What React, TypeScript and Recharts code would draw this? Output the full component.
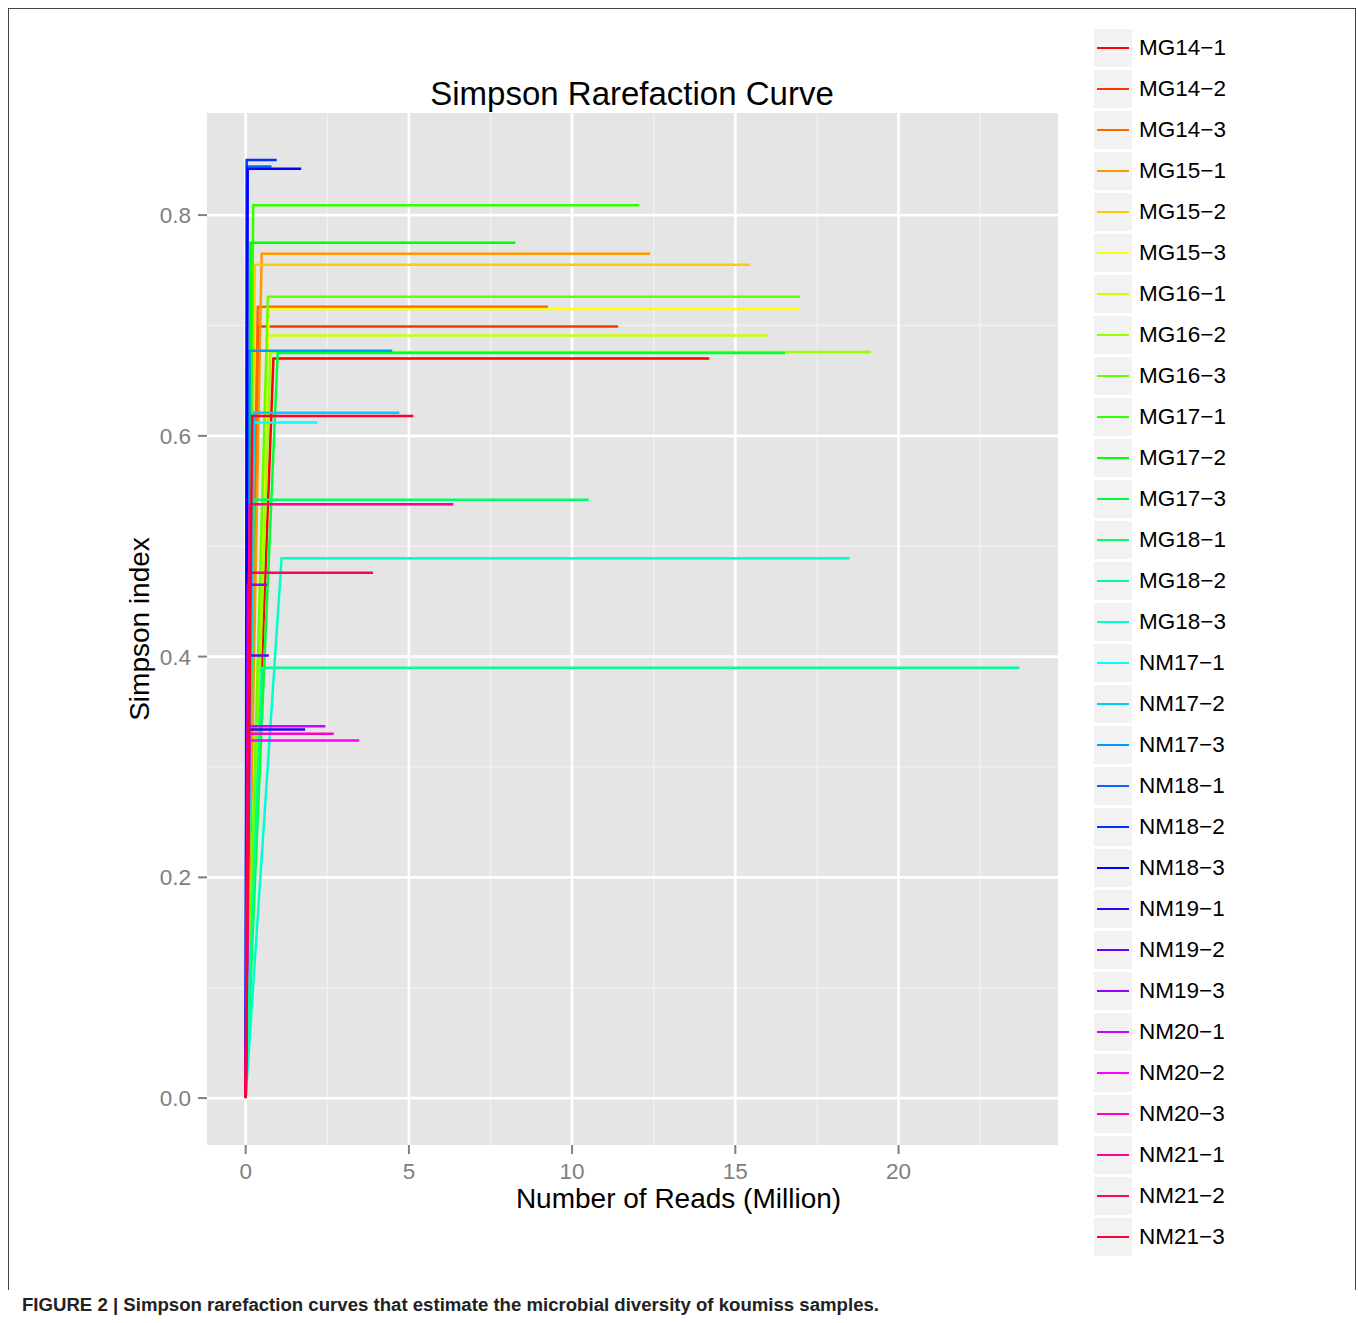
import { LineChart, Line, XAxis, YAxis, CartesianGrid, Legend } from "recharts";

const sampleNames = [
    "MG14−1", "MG14−2", "MG14−3", "MG15−1", "MG15−2", "MG15−3",
    "MG16−1", "MG16−2", "MG16−3", "MG17−1", "MG17−2", "MG17−3",
    "MG18−1", "MG18−2", "MG18−3", "NM17−1", "NM17−2", "NM17−3",
    "NM18−1", "NM18−2", "NM18−3", "NM19−1", "NM19−2", "NM19−3",
    "NM20−1", "NM20−2", "NM20−3", "NM21−1", "NM21−2", "NM21−3",
];

// rainbow(30)
const sampleColors = [
    "#FF0000", "#FF3300", "#FF6600", "#FF9900", "#FFCC00", "#FFFF00",
    "#CCFF00", "#99FF00", "#66FF00", "#33FF00", "#00FF00", "#00FF33",
    "#00FF66", "#00FF99", "#00FFCC", "#00FFFF", "#00CCFF", "#0099FF",
    "#0066FF", "#0033FF", "#0000FF", "#3300FF", "#6600FF", "#9900FF",
    "#CC00FF", "#FF00FF", "#FF00CC", "#FF0099", "#FF0066", "#FF0033",
];

// Simpson index reached at the plateau
const plateauSimpson = [
    0.670, 0.699, 0.717, 0.765, 0.755, 0.715,
    0.691, 0.676, 0.726, 0.809, 0.775, 0.675,
    0.542, 0.390, 0.489, 0.612, 0.621, 0.677,
    0.844, 0.850, 0.842, 0.334, 0.401, 0.465,
    0.337, 0.324, 0.330, 0.538, 0.476, 0.618,
];

// reads (million) where the curve reaches the plateau
const saturationReads = [
    0.85, 0.40, 0.37, 0.49, 0.28, 0.71,
    0.66, 0.76, 0.68, 0.23, 0.15, 0.98,
    0.25, 0.49, 1.10, 0.25, 0.25, 0.12,
    0.05, 0.03, 0.06, 0.10, 0.12, 0.06,
    0.10, 0.12, 0.10, 0.12, 0.10, 0.20,
];

// total reads (million) per sample
const totalReads = [
    14.20, 11.41, 9.26, 12.39, 15.45, 16.99,
    16.00, 19.15, 16.98, 12.06, 8.26, 16.52,
    10.51, 23.70, 18.50, 2.19, 4.71, 4.49,
    0.79, 0.95, 1.70, 1.82, 0.71, 0.66,
    2.44, 3.48, 2.70, 6.36, 3.90, 5.14,
];

const xTicks = [0, 5, 10, 15, 20];
const xMinor = [2.5, 7.5, 12.5, 17.5, 22.5];
const yTicks = [0, 0.2, 0.4, 0.6, 0.8];
const yMinor = [0.1, 0.3, 0.5, 0.7];

const xMax = 23.7;
const yMax = 0.85;
const xDomain = [-0.05 * xMax, xMax * 1.05];
const yDomain = [-0.05 * yMax, yMax * 1.05];

const series = sampleNames.map((name, i) => ({
    name,
    color: sampleColors[i],
    points: [
        { x: 0, y: 0 },
        { x: saturationReads[i], y: plateauSimpson[i] },
        { x: totalReads[i], y: plateauSimpson[i] },
    ],
}));

const FONT = '"Liberation Sans", Arial, Helvetica, sans-serif';

interface LegendItem {
    value: string;
    color: string;
}

function KeyLegend({ payload }: { payload?: LegendItem[] }) {
    if (!payload) return null;
    return (
        <div>
            {payload.map((item) => (
                <div
                    key={item.value}
                    style={{ display: "flex", alignItems: "center", height: 38, marginBottom: 3 }}
                >
                    <div style={{ width: 38, height: 38, background: "#F2F2F2", position: "relative" }}>
                        <div
                            style={{
                                position: "absolute",
                                left: 3,
                                right: 3,
                                top: 18,
                                height: 2.2,
                                background: item.color,
                            }}
                        />
                    </div>
                    <span style={{ marginLeft: 7, fontSize: 22.5, lineHeight: "38px", color: "#000" }}>
                        {item.value}
                    </span>
                </div>
            ))}
        </div>
    );
}

export default function App() {
    return (
        <div style={{ position: "relative", width: 1358, height: 1323, fontFamily: FONT, overflow: "hidden" }}>
            <style>{"body { margin: 0; }"}</style>
            <div style={{ position: "absolute", left: 8, top: 8, width: 1342, height: 1307 }}>
                <div
                    style={{
                        position: "absolute",
                        left: 0,
                        top: 0,
                        width: 1348,
                        height: 1282,
                        boxSizing: "border-box",
                        borderTop: "1.5px solid #444",
                        borderLeft: "1.5px solid #444",
                        borderRight: "1.5px solid #444",
                    }}
                />
                <div
                    style={{
                        position: "absolute",
                        left: 0,
                        top: 69,
                        width: 1248,
                        textAlign: "center",
                        fontSize: 33,
                        lineHeight: 1,
                        color: "#000",
                    }}
                >
                    Simpson Rarefaction Curve
                </div>
                <div style={{ position: "absolute", left: 0, top: 0 }}>
                    <LineChart
                        width={1342}
                        height={1240}
                        margin={{ top: 105, right: 292, bottom: 13, left: 119 }}
                    >
                        <CartesianGrid
                            fill="#E5E5E5"
                            stroke="#F2F2F2"
                            strokeWidth={1.2}
                            horizontalValues={yMinor}
                            verticalValues={xMinor}
                        />
                        <CartesianGrid
                            stroke="#FFFFFF"
                            strokeWidth={2.6}
                            horizontalValues={yTicks}
                            verticalValues={xTicks}
                        />
                        <XAxis
                            type="number"
                            dataKey="x"
                            domain={xDomain}
                            ticks={xTicks}
                            allowDataOverflow
                            axisLine={false}
                            tickLine={{ stroke: "#7F7F7F", strokeWidth: 2 }}
                            tickSize={9}
                            tickMargin={9}
                            tick={{ fontSize: 22.5, fill: "#7F7F7F" }}
                            height={90}
                            label={{
                                value: "Number of Reads (Million)",
                                position: "insideBottom",
                                offset: 27,
                                dx: 46,
                                fontSize: 28,
                                fill: "#000",
                            }}
                        />
                        <YAxis
                            type="number"
                            domain={yDomain}
                            ticks={yTicks}
                            allowDataOverflow
                            axisLine={false}
                            tickLine={{ stroke: "#7F7F7F", strokeWidth: 2 }}
                            tickSize={9}
                            tickMargin={7}
                            tick={{ fontSize: 22.5, fill: "#7F7F7F" }}
                            tickFormatter={(v: number) => v.toFixed(1)}
                            width={80}
                            label={{
                                value: "Simpson index",
                                angle: -90,
                                position: "insideLeft",
                                offset: 12,
                                fontSize: 28,
                                fill: "#000",
                                style: { textAnchor: "middle" },
                            }}
                        />
                        <Legend
                            layout="vertical"
                            align="center"
                            verticalAlign="middle"
                            content={<KeyLegend />}
                            wrapperStyle={{ left: 1086, top: 21, width: 200 }}
                        />
                        {series.map((s) => (
                            <Line
                                key={s.name}
                                data={s.points}
                                dataKey="y"
                                name={s.name}
                                type="linear"
                                stroke={s.color}
                                strokeWidth={2.5}
                                dot={false}
                                activeDot={false}
                                isAnimationActive={false}
                            />
                        ))}
                    </LineChart>
                </div>
                <svg
                    width={1300}
                    height={28}
                    style={{ position: "absolute", left: 0, top: 1282 }}
                >
                    <text
                        x={14}
                        y={21}
                        fontSize={18}
                        fontWeight="bold"
                        fill="#222"
                        textLength={857}
                        lengthAdjust="spacingAndGlyphs"
                    >
                        FIGURE 2 | Simpson rarefaction curves that estimate the microbial diversity of koumiss samples.
                    </text>
                </svg>
            </div>
        </div>
    );
}
